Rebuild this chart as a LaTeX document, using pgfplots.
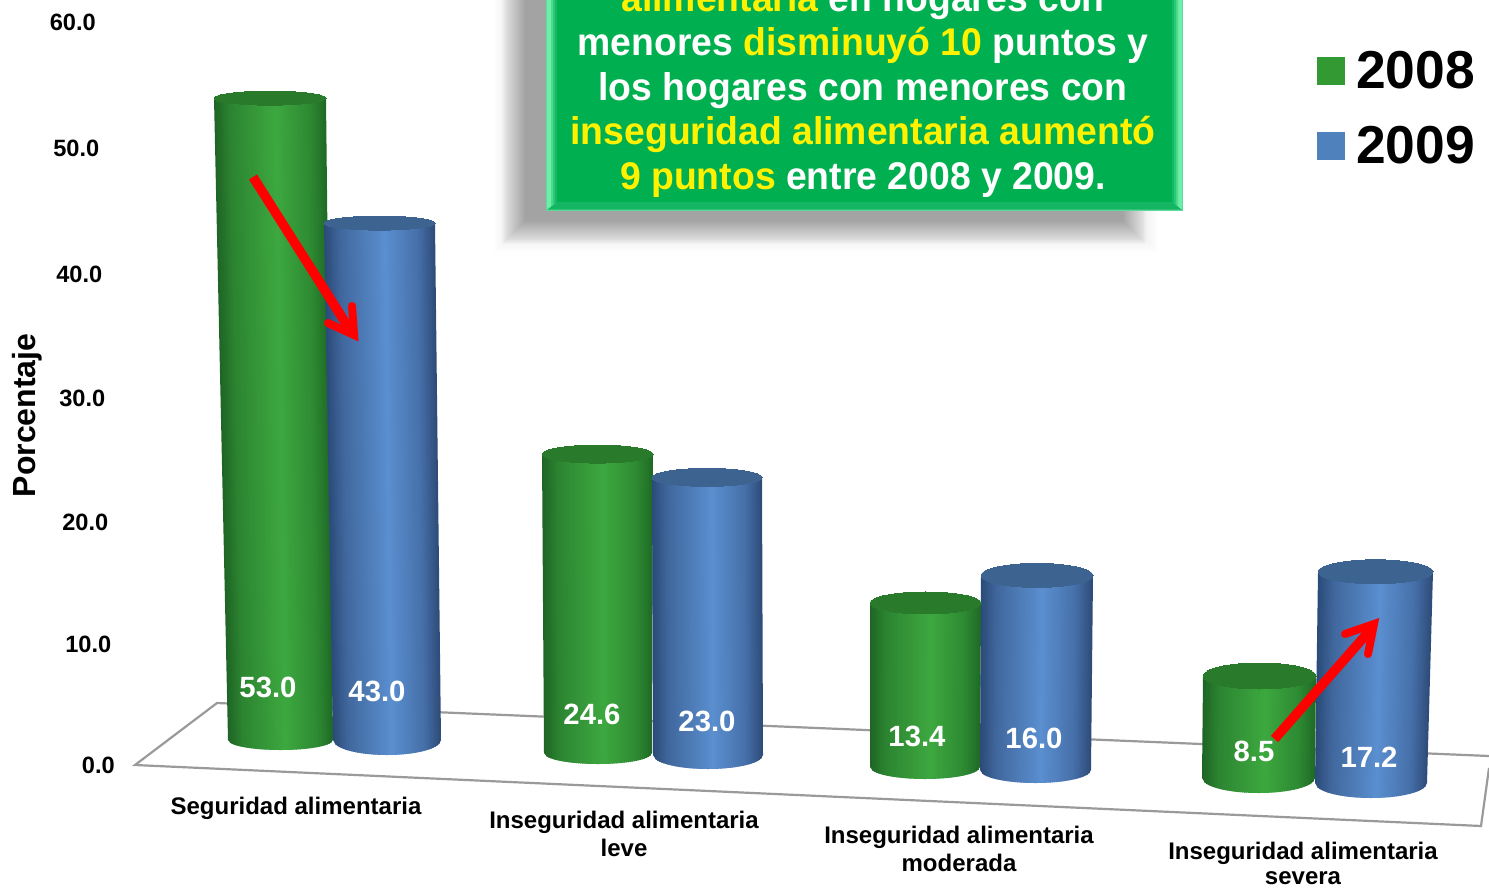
\documentclass[border=0pt]{standalone}
\usepackage{pgfplots}
\pgfplotsset{compat=1.18}
\usepackage{fontspec}
\setmainfont{Liberation Sans}
\definecolor{ga}{HTML}{1E6425}\definecolor{gb}{HTML}{2C8531}\definecolor{gc}{HTML}{3DA83F}\definecolor{gd}{HTML}{2E8A33}\definecolor{ge}{HTML}{1F6A26}
\definecolor{ba}{HTML}{2A4A78}\definecolor{bb}{HTML}{41689E}\definecolor{bc}{HTML}{5A8FD0}\definecolor{bd}{HTML}{466FA8}\definecolor{be}{HTML}{2D4B78}
\definecolor{gcap}{HTML}{2A7A2C}\definecolor{bcap}{HTML}{3D6491}
\definecolor{boxg}{HTML}{00B050}\definecolor{bevE}{HTML}{5FD89A}\definecolor{bevB}{HTML}{14B664}
\definecolor{bev1}{HTML}{6CF0A8}\definecolor{bev2}{HTML}{4CDB8E}\definecolor{bev3}{HTML}{2CC878}\definecolor{bev4}{HTML}{14BA62}
\definecolor{leg1}{HTML}{339933}\definecolor{leg2}{HTML}{4F81BD}\definecolor{floorc}{HTML}{9A9A9A}
\newcommand\mkramp[6]{%
 \pgfplotsforeachungrouped \i in {0,...,53}{%
  \pgfmathsetmacro\u{(\i+.5)/54}%
  \ifdim\u pt<.15pt \pgfmathsetmacro\p{100*\u/.15}\colorlet{#1\i}{#3!\p!#2}%
  \else\ifdim\u pt<.55pt \pgfmathsetmacro\p{100*(\u-.15)/.4}\colorlet{#1\i}{#4!\p!#3}%
  \else\ifdim\u pt<.85pt \pgfmathsetmacro\p{100*(\u-.55)/.3}\colorlet{#1\i}{#5!\p!#4}%
  \else \pgfmathsetmacro\p{100*(\u-.85)/.15}\colorlet{#1\i}{#6!\p!#5}\fi\fi\fi
 }}
\mkramp{g}{ga}{gb}{gc}{gd}{ge}
\mkramp{b}{ba}{bb}{bc}{bd}{be}
% \cyl{prefix}{value}{xl top}{xr top}{xl base}{xr base}{base y}{base semi}{px per unit}{top semi}
\newcommand\cyl[2]{\def\cp{#1}\def\cv{#2}\cylB}
\newcommand\cylB[8]{%
 \pgfmathsetmacro\cyt{#5-#7*\cv}%
 \pgfplotsforeachungrouped \i in {0,...,53}{%
  \pgfmathsetmacro\ua{\i/54}\pgfmathsetmacro\ub{min(1,(\i+1)/54+.008)}%
  \pgfmathsetmacro\xta{#1+\ua*(#2-#1)}\pgfmathsetmacro\xtb{#1+\ub*(#2-#1)}%
  \pgfmathsetmacro\xba{#3+\ua*(#4-#3)}\pgfmathsetmacro\xbb{#3+\ub*(#4-#3)}%
  \pgfmathsetmacro\yba{#5+#6*sqrt(max(0,1-(2*\ua-1)*(2*\ua-1)))}%
  \pgfmathsetmacro\ybb{#5+#6*sqrt(max(0,1-(2*\ub-1)*(2*\ub-1)))}%
  \edef\tmp{\noexpand\addplot[forget plot,fill=\cp\i,draw=none] coordinates {(\xta,\cyt)(\xtb,\cyt)(\xbb,\ybb)(\xba,\yba)} -- cycle;}\tmp
 }%
 \pgfmathsetmacro\xc{(#1+#2)/2}\pgfmathsetmacro\rx{(#2-#1)/2}%
 \edef\tmp{\noexpand\addplot[forget plot,only marks,mark=*,mark size=1pt,mark options={draw=\cp cap,fill=\cp cap,line width=0pt,xscale=\rx,yscale=#8}] coordinates {(\xc,\cyt)};}\tmp
}
\newcommand\lab[1]{\fontsize{#1}{#1}\bfseries\selectfont}
\newcommand\bev[3]{%
 \fill[#3] (#1,-20) -- (#2,-20) -- (#2,{209.5-(#2-547)*.75}) -- (#1,{209.5-(#1-547)*.75}) -- cycle;
 \fill[#3] ({1729-#1},-20) -- ({1729-#2},-20) -- ({1729-#2},{209.5-(#2-547)*.75}) -- ({1729-#1},{209.5-(#1-547)*.75}) -- cycle;
}
\begin{document}
\begin{tikzpicture}
\path[use as bounding box,clip] (0,0) rectangle (1489pt,888pt);
\begin{axis}[at={(0,0)},anchor=south west,scale only axis,width=1489pt,height=888pt,
  xmin=0,xmax=1489,ymin=0,ymax=888,y dir=reverse,axis lines=none]
% floor
\addplot[forget plot,draw=floorc,line width=2.2pt,line join=miter] coordinates {(1489,756)(217,703)(135,765)(1481,826)(1489,768)};
% shadow
\pgfplotsinvokeforeach{0,...,7}{
  \fill[black,opacity=.006] ({494+2*#1},-60) rectangle ({1158-2*#1},{252-2*#1});
}
\pgfplotsinvokeforeach{0,...,23}{
  \fill[black,opacity=.016] ({502+#1},-60) rectangle ({1146-#1},{244-#1});
}
% box
\fill[bevE] (545.5,-20) rectangle (1183,211);
\fill[bevB] (547,209.5) -- (1182,209.5) -- (1172,202) -- (557,202) -- cycle;
\bev{547}{551}{bev1}
\bev{551}{553}{bev2}
\bev{553}{555}{bev3}
\bev{555}{557}{bev4}
\fill[boxg] (557,-20) rectangle (1172,202);
\begin{scope}[every node/.style={anchor=base,text=white,inner sep=0pt,font=\lab{38.6},xscale=.967,transform shape}]
\node at (863,12) {\textcolor{yellow}{alimentaria} en hogares con};
\node at (863,56) {menores \textcolor{yellow}{disminuyó 10} puntos y};
\node at (863,100.5) {los hogares con menores con};
\node at (863,145) {\textcolor{yellow}{inseguridad alimentaria aumentó}};
\node at (863,189.5) {\textcolor{yellow}{9 puntos} entre 2008 y 2009.};
\end{scope}
% cylinders
\cyl{g}{53.0}{214}{326}{228}{333}{740}{10}{12.11}{7}
\cyl{b}{43.0}{324}{435}{333}{441}{740}{15}{12.02}{7}
\cyl{g}{24.6}{542}{653}{544}{652}{753}{11}{12.15}{9}
\cyl{b}{23.0}{652}{762}{653}{763}{755}{14}{12.07}{9}
\cyl{g}{13.4}{870}{981}{870}{980}{767}{12}{12.24}{11}
\cyl{b}{16.0}{981}{1093}{980}{1091}{770}{13}{12.16}{12}
\cyl{g}{8.5}{1203}{1316}{1202}{1315}{778}{15}{12.00}{13}
\cyl{b}{17.2}{1318}{1433}{1315}{1427}{783}{15}{12.28}{12}
% data labels
\begin{scope}[every node/.style={text=white,inner sep=0pt,font=\lab{29.3}}]
\node at (268,687) {53.0};
\node at (377,691) {43.0};
\node at (592,714) {24.6};
\node at (707,721) {23.0};
\node at (917,736) {13.4};
\node at (1034,738) {16.0};
\node at (1254,751) {8.5};
\node at (1369,757) {17.2};
\end{scope}
% arrows
\addplot[forget plot,red,line width=9.5pt] coordinates {(253,177)(350,330)};
\addplot[forget plot,red,line width=8pt,line cap=round,line join=miter,miter limit=10] coordinates {(328,323)(354,335)(352,306)};
\addplot[forget plot,red,line width=9.5pt] coordinates {(1274.5,739)(1372,628)};
\addplot[forget plot,red,line width=8pt,line cap=round,line join=miter,miter limit=10] coordinates {(1345,634)(1374,624)(1368,654)};
% y labels
\begin{scope}[every node/.style={anchor=east,text=black,inner sep=0pt,font=\lab{23.6}}]
\node at (96,22) {60.0};
\node at (99.5,148) {50.0};
\node at (102.5,274) {40.0};
\node at (105.5,398) {30.0};
\node at (108.5,522) {20.0};
\node at (111.5,644) {10.0};
\node at (115,765) {0.0};
\end{scope}
\node[rotate=90,inner sep=0pt,font=\lab{32}] at (27,415.5) {Porcentaje};
% category labels
\begin{scope}[every node/.style={inner sep=0pt,align=center,font=\lab{24}}]
\node at (296,808) {Seguridad alimentaria};
\node at (624,822) {Inseguridad alimentaria};
\node at (624,848) {leve};
\node at (959,837) {Inseguridad alimentaria};
\node at (959,863) {moderada};
\node at (1303,853) {Inseguridad alimentaria};
\node at (1303,878.5) {severa};
\end{scope}
% legend
\addplot[forget plot,only marks,mark=square*,mark size=13.5pt,mark options={draw=leg1,fill=leg1,line width=0pt}] coordinates {(1330.5,71.5)};
\addplot[forget plot,only marks,mark=square*,mark size=13.5pt,mark options={draw=leg2,fill=leg2,line width=0pt}] coordinates {(1330.5,146.5)};
\node[anchor=west,inner sep=0pt,font=\lab{53.4}] at (1356,70) {2008};
\node[anchor=west,inner sep=0pt,font=\lab{53.4}] at (1356,145) {2009};
\end{axis}
\end{tikzpicture}
\end{document}
